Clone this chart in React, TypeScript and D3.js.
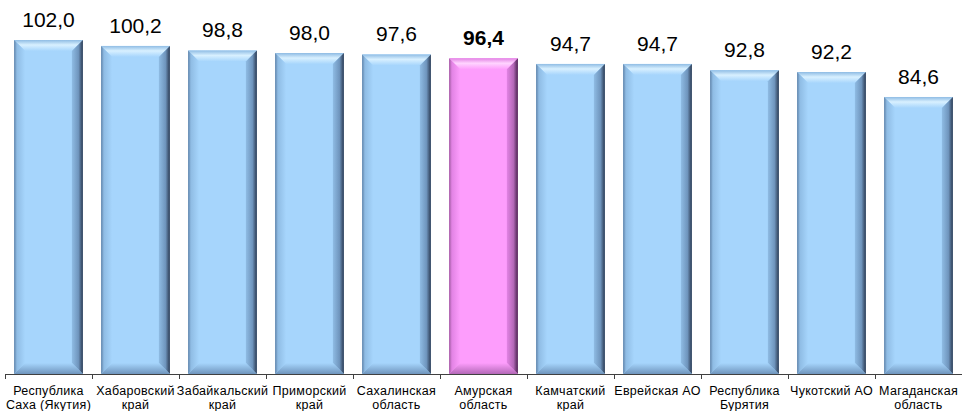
import { useEffect, useRef } from 'react';
import * as d3 from 'd3';

const regions = [
  ['Республика', 'Саха (Якутия)'],
  ['Хабаровский', 'край'],
  ['Забайкальский', 'край'],
  ['Приморский', 'край'],
  ['Сахалинская', 'область'],
  ['Амурская', 'область'],
  ['Камчатский', 'край'],
  ['Еврейская АО'],
  ['Республика', 'Бурятия'],
  ['Чукотский АО'],
  ['Магаданская', 'область'],
];
const values = [102.0, 100.2, 98.8, 98.0, 97.6, 96.4, 94.7, 94.7, 92.8, 92.2, 84.6];
const highlightIndex = 5;

const palettes = {
  blue: { base: '#a6d5fc', light: '#d8f0ff', edge: '#5f82a8', dark: '#2b3a52', mid: '#8fbce4', bottom: '#6f95bd' },
  pink: { base: '#fd9dfc', light: '#ffd4ff', edge: '#a05aa0', dark: '#4a2350', mid: '#e283e4', bottom: '#b468b8' },
};

export default function App() {
  const ref = useRef<SVGSVGElement>(null);

  useEffect(() => {
    if (!ref.current) return;
    const svg = d3.select(ref.current);
    svg.selectAll('*').remove();

    const width = 962;
    const axisY = 374;
    const x = d3
      .scaleBand<number>()
      .domain(d3.range(values.length))
      .range([5, width])
      .paddingInner(0.21)
      .paddingOuter(0.105);
    const y = d3.scaleLinear().domain([0, 102]).range([axisY, 40]);

    const defs = svg.append('defs');
    Object.entries(palettes).forEach(([name, p]) => {
      const grad = (id, x2, y2, stops) => {
        const g = defs
          .append('linearGradient')
          .attr('id', `${name}-${id}`)
          .attr('x1', 0)
          .attr('y1', 0)
          .attr('x2', x2)
          .attr('y2', y2);
        stops.forEach(([o, c]) => g.append('stop').attr('offset', o).attr('stop-color', c));
      };
      grad('top', 0, 1, [[0, p.mid], [0.45, p.light], [1, p.base]]);
      grad('left', 1, 0, [[0, p.edge], [0.25, p.mid], [1, p.base]]);
      grad('right', 1, 0, [[0, p.mid], [0.6, p.bottom], [1, p.dark]]);
      grad('bottom', 0, 1, [[0, p.base], [1, p.bottom]]);
    });

    const b = 11;
    svg
      .append('g')
      .selectAll('g')
      .data(values)
      .join('g')
      .each(function (v, i) {
        const g = d3.select(this);
        const name = i === highlightIndex ? 'pink' : 'blue';
        const p = palettes[name];
        const x0 = x(i)!;
        const x1 = x0 + x.bandwidth();
        const y0 = y(v);
        const y1 = axisY;
        g.append('rect').attr('x', x0).attr('y', y0).attr('width', x1 - x0).attr('height', y1 - y0).attr('fill', p.base);
        const poly = (pts, fill) =>
          g.append('polygon').attr('points', pts.map((q) => q.join(',')).join(' ')).attr('fill', fill);
        poly([[x0, y0], [x1, y0], [x1 - b, y0 + b], [x0 + b, y0 + b]], `url(#${name}-top)`);
        poly([[x0, y0], [x0 + b, y0 + b], [x0 + b, y1 - b], [x0, y1]], `url(#${name}-left)`);
        poly([[x1, y0], [x1, y1], [x1 - b, y1 - b], [x1 - b, y0 + b]], `url(#${name}-right)`);
        poly([[x0, y1], [x1, y1], [x1 - b, y1 - b], [x0 + b, y1 - b]], `url(#${name}-bottom)`);
      });

    // value labels
    svg
      .append('g')
      .selectAll('text')
      .data(values)
      .join('text')
      .attr('x', (_, i) => x(i)! + x.bandwidth() / 2)
      .attr('y', (v) => y(v) - 13)
      .attr('text-anchor', 'middle')
      .attr('font-family', '"Liberation Sans", Arial, sans-serif')
      .attr('font-size', 21)
      .attr('font-weight', (_, i) => (i === highlightIndex ? 700 : 400))
      .attr('fill', '#000')
      .text((v) => v.toFixed(1).replace('.', ','));

    // axis
    const axis = svg.append('g').attr('stroke', '#404040').attr('stroke-width', 1);
    axis.append('line').attr('x1', 5).attr('x2', width).attr('y1', axisY + 0.5).attr('y2', axisY + 0.5);
    const step = x.step();
    d3.range(values.length + 1).forEach((i) => {
      const tx = Math.round(5 + i * step) + 0.5;
      axis.append('line').attr('x1', tx).attr('x2', tx).attr('y1', axisY).attr('y2', axisY + 5);
    });

    // category labels
    const labels = svg
      .append('g')
      .selectAll('text')
      .data(regions)
      .join('text')
      .attr('x', (_, i) => x(i)! + x.bandwidth() / 2)
      .attr('y', 395)
      .attr('text-anchor', 'middle')
      .attr('font-family', '"Liberation Sans", Arial, sans-serif')
      .attr('font-size', 12.5)
      .attr('letter-spacing', 0.3)
      .attr('fill', '#000');
    labels
      .selectAll('tspan')
      .data((d) => d)
      .join('tspan')
      .attr('x', function () {
        return d3.select(this.parentNode).attr('x');
      })
      .attr('dy', (_, j) => (j === 0 ? 0 : 14))
      .text((d) => d);
  }, []);

  return (
    <svg
      ref={ref}
      width={962}
      height={411}
      style={{ position: 'absolute', left: 0, top: 0, background: '#fff' }}
    />
  );
}
